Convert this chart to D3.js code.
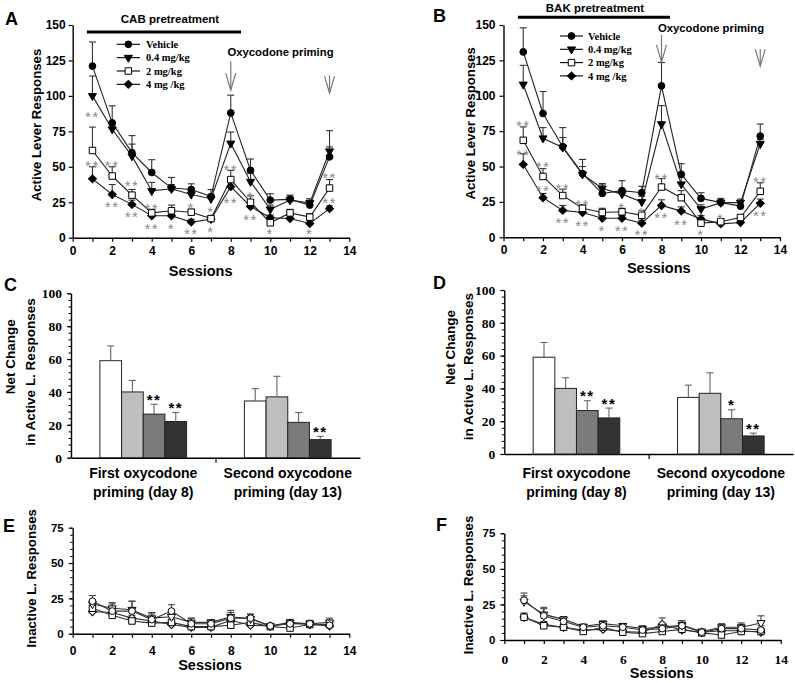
<!DOCTYPE html>
<html><head><meta charset="utf-8">
<script src="https://cdn.jsdelivr.net/npm/d3@7"></script>
<style>
body{margin:0;background:#fff}
svg{display:block}
</style></head><body>
<svg id="chart" width="795" height="683"></svg>
<script>
// ---------------- DATA ----------------
const sessions = [1,2,3,4,5,6,7,8,9,10,11,12,13];
const doseNames = ["Vehicle","0.4 mg/kg","2 mg/kg","4 mg /kg"];
const xTickValues = [0,1,2,3,4,5,6,7,8,9,10,11,12,13,14];
const activeYTicks = [0,25,50,75,100,125,150];
const inactiveYTicks = [0,25,50,75];
const netYTicks = [0,20,40,60,80,100];

// Panel A (CAB) active lever
const A_vehicle = [121, 81, 60, 46, 35, 34, 29, 88, 47.5, 26.5, 27, 23, 57];
const A_vehicleErr = [17, 12, 12, 9, 7.5, 4, 5, 12.5, 8, 4.5, 3, 4.5, 7];
const A_low = [100, 76.5, 57.5, 33, 34.5, 30.5, 27.5, 66.5, 39.5, 20, 26.5, 24.5, 61];
const A_lowErr = [14, 3, 8.5, 6, 3, 3, 3, 8, 6, 3, 3, 2, 14.5];
const A_mid = [61.5, 43.5, 30, 17.5, 19, 18, 13.5, 41, 25, 10.5, 17.5, 14.5, 35];
const A_midErr = [16.5, 6.5, 4, 2.5, 4, 2, 2, 6.5, 4.5, 2.5, 2.5, 2.5, 6];
const A_high = [41.5, 30.5, 23.5, 15.5, 15.5, 11, 13, 36, 22, 14, 13.5, 10, 20.5];
const A_highErr = [8.5, 7, 3, 2, 2, 2, 2, 4, 3, 2, 2, 2, 2];
const A_stars = [[1,88,"**"],[1,53,"**"],[2,53,"**"],[2,24,"**"],[3,39,"**"],[3,17,"**"],
  [4,22.5,"**"],[4,8.5,"**"],[5,9,"*"],[6,23.5,"*"],[6,5.5,"**"],[7,20.5,"*"],[7,6.5,"*"],
  [8,50.5,"**"],[8,27,"**"],[9,31,"*"],[9,15,"**"],[10,5,"*"],[12,5.5,"*"],[13,45,"**"],[13,27,"**"]];
const A_arrowSessions = [8, 13];
const A_arrowTop = [124.5, 114.5];
const A_arrowTip = [104, 102];
const A_pretreat = [0.72, 8.52, 145];

// Panel B (BAK) active lever
const B_vehicle = [131, 87.5, 64, 45, 31, 33, 31.5, 107, 44.5, 27.5, 24.5, 22, 71.5];
const B_vehicleErr = [17, 15.5, 13.5, 10, 6, 7, 4.5, 16.5, 7.5, 4, 3, 3, 8.5];
const B_low = [108, 70, 63.5, 44.5, 34.5, 30.5, 25, 80, 37.5, 20, 24.5, 24.5, 66];
const B_lowErr = [13.5, 7.5, 7, 5.5, 3.5, 3, 4, 13, 5, 3, 2.5, 2.5, 3];
const B_mid = [68.5, 43, 29.5, 20.5, 17.5, 18, 15.5, 35.5, 28, 10, 11, 14, 32.5];
const B_midErr = [9.5, 5.5, 4.5, 2.5, 3, 2.5, 3.5, 6, 5, 3, 2, 2, 6];
const B_high = [51.5, 28, 19, 17.5, 13.5, 13.5, 10, 22.5, 18.5, 13, 9.5, 10.5, 24];
const B_highErr = [7.5, 3, 3.5, 3, 2.5, 2, 2, 4, 3, 2.5, 1.5, 1.5, 3];
const B_stars = [[1,81,"**"],[1,61,"**"],[2,52,"**"],[2,35.5,"**"],[3,36.5,"**"],[3,13,"**"],
  [4,25.5,"**"],[4,10.5,"**"],[5,7,"*"],[6,23,"*"],[6,7,"**"],[7,19.5,"*"],[7,4.5,"**"],
  [8,43.5,"**"],[8,16.5,"**"],[9,11.5,"**"],[10,4.5,"*"],[11,15.5,"*"],[13,41.5,"**"],[13,17.5,"**"]];
const B_arrowSessions = [8, 13];
const B_arrowTop = [143, 133];
const B_arrowTip = [124, 121];
const B_pretreat = [0.73, 8.43, 155.4];

// Panels C / D net change (two priming days, four doses)
const netGroupsLine1 = ["First oxycodone", "Second oxycodone"];
const netGroupsLine2 = ["priming (day 8)", "priming (day 13)"];
const C_vehicle = [59, 34.5], C_vehicleErr = [9, 7.5];
const C_low = [40, 37], C_lowErr = [7, 12.5];
const C_mid = [26.5, 21.5], C_midErr = [6, 6];
const C_high = [22, 11], C_highErr = [5.5, 2];
const C_stars = [[0,2,"**"],[0,3,"**"],[1,3,"**"]];
const D_vehicle = [59, 34.5], D_vehicleErr = [9, 7.5];
const D_low = [40, 37], D_lowErr = [6.5, 12.5];
const D_mid = [26.5, 21.5], D_midErr = [6, 5.5];
const D_high = [22, 11], D_highErr = [6, 1.7];
const D_stars = [[0,2,"**"],[0,3,"**"],[1,2,"*"],[1,3,"**"]];

// Panel E (CAB) inactive lever
const E_vehicle = [23, 16, 16, 10, 16, 7, 7, 11, 11, 5.5, 7, 7, 6];
const E_vehicleErr = [4, 5, 7, 5, 4.5, 4, 3, 5.5, 3, 1, 2.5, 2.5, 3.5];
const E_low = [21, 18, 17, 11, 12, 8, 8, 12, 10.5, 5.5, 8, 7, 8];
const E_lowErr = [3, 4, 6, 3, 3, 3, 2, 3, 3, 1, 2, 2, 3];
const E_mid = [18, 13, 9, 7.5, 8, 5, 5, 6, 8, 5, 4, 6.5, 6.5];
const E_midErr = [3, 2, 2, 2, 2, 2, 2, 2, 2, 1, 2, 2, 2];
const E_high = [15.5, 15, 11, 9, 6.5, 4.5, 4.5, 9.5, 6, 5.5, 7.5, 6.5, 5.5];
const E_highErr = [2, 2, 2, 2, 2, 1.5, 1.5, 2, 2, 1, 1.5, 1.5, 1.5];

// Panel F (BAK) inactive lever
const F_vehicle = [28, 17, 13, 9, 10, 9, 7, 8, 10, 5.5, 8, 8, 7];
const F_vehicleErr = [5, 5, 2, 1.5, 2, 2, 2, 2, 3.5, 1.5, 2.5, 3, 3];
const F_low = [27, 18, 14.5, 9.5, 11.5, 10, 8, 9, 10.5, 6, 9, 9, 12];
const F_lowErr = [4, 5, 2, 1.5, 2, 1.5, 2, 2, 3, 1.5, 2.5, 3, 5];
const F_mid = [16, 10, 9, 6, 9, 5.5, 4.5, 6, 7.5, 5, 3.5, 6, 6];
const F_midErr = [2, 2, 1.5, 1.5, 1.5, 1.5, 1, 1.5, 1.5, 1, 1.5, 1.5, 1.5];
const F_high = [16, 11, 9, 7, 7.5, 6, 5.5, 11, 7, 5.5, 6.5, 6.5, 5.5];
const F_highErr = [3, 2, 1.5, 1.5, 1.5, 1.5, 1, 4.5, 1.5, 1, 1, 1, 1];

// ---------------- DRAWING ----------------
const SANS = '"Liberation Sans", Arial, sans-serif';
const SERIF = '"Liberation Serif", "Times New Roman", serif';
const svg = d3.select("#chart");

const symDefs = [
  {type: d3.symbolCircle, size: 36, rot: 0},
  {type: d3.symbolTriangle, size: 28, rot: 180},
  {type: d3.symbolSquare, size: 42, rot: 0},
  {type: d3.symbolSquare, size: 32, rot: 45}
];

function styleAxis(sel, font, size) {
  sel.select(".domain").attr("stroke", "#000").attr("stroke-width", 1.4);
  sel.selectAll(".tick line").attr("stroke", "#000").attr("stroke-width", 1.2);
  sel.selectAll(".tick text").attr("fill", "#000")
    .style("font-family", font).style("font-size", size + "px").style("font-weight", "bold");
}

function txt(g, x, y, s, size, opts = {}) {
  return g.append("text").attr("x", x).attr("y", y).attr("dy", "0.35em")
    .attr("text-anchor", opts.anchor || "middle")
    .style("font-family", opts.font || SANS).style("font-size", size + "px")
    .style("font-weight", opts.weight || "bold").attr("fill", opts.fill || "#000")
    .text(s);
}
function vtxt(g, x, y, s, size) {
  return g.append("text").attr("transform", `translate(${x},${y}) rotate(-90)`).attr("dy", "0.35em")
    .attr("text-anchor", "middle").style("font-family", SANS).style("font-size", size + "px")
    .style("font-weight", "bold").attr("fill", "#000").text(s);
}
function marker(g, k, cx, cy, fill) {
  const d = symDefs[k];
  g.append("path").attr("d", d3.symbol().type(d.type).size(d.size)())
    .attr("transform", `translate(${cx},${cy}) rotate(${d.rot})`)
    .attr("fill", fill).attr("stroke", "#000").attr("stroke-width", 1);
}
function starText(g, x, yc, s, size, fill, weight) {
  g.append("text").attr("x", x).attr("y", yc + 0.58 * size)
    .attr("text-anchor", "middle").style("font-family", SANS).style("font-size", size + "px")
    .style("font-weight", weight).style("letter-spacing", "1.5px").attr("fill", fill).text(s);
}

function linePanel(o) {
  const g = svg.append("g");
  const x = d3.scaleLinear().domain([0, 14]).range(o.xr);
  const y = d3.scaleLinear().domain([0, o.ymax]).range(o.yr);
  if (o.minor) {
    g.append("g").attr("transform", `translate(${o.xr[0]},0)`)
      .call(d3.axisLeft(y).tickValues(d3.range(0, o.ymax + 0.001, o.minor)).tickSize(2.5).tickFormat(""))
      .call(s => { s.select(".domain").remove(); s.selectAll("line").attr("stroke", "#000"); });
  }
  const ya = g.append("g").attr("transform", `translate(${o.xr[0]},0)`)
    .call(d3.axisLeft(y).tickValues(o.yTicks).tickSize(4).tickPadding(o.yPad).tickSizeOuter(0));
  styleAxis(ya, SANS, o.yFont);
  const xa = g.append("g").attr("transform", `translate(0,${o.yr[0]})`)
    .call(d3.axisBottom(x).tickValues(xTickValues).tickFormat(d => d % 2 ? "" : d)
      .tickSize(4).tickPadding(o.xPad).tickSizeOuter(0));
  styleAxis(xa, o.xFontFamily, o.xFont);

  const line = d3.line().x((d, i) => x(sessions[i])).y(d => y(d));
  const order = [3, 2, 1, 0];
  order.forEach(k => {
    const s = o.series[k];
    g.append("path").datum(s.v).attr("d", line).attr("fill", "none")
      .attr("stroke", o.lineColor).attr("stroke-width", 1.1);
  });
  order.forEach(k => {
    const s = o.series[k];
    const eg = g.append("g").attr("stroke", o.errColor).attr("stroke-width", 1.1);
    s.v.forEach((v, i) => {
      const cx = x(sessions[i]), y0 = y(v), y1 = y(v + s.e[i]);
      eg.append("line").attr("x1", cx).attr("x2", cx).attr("y1", y0).attr("y2", y1);
      eg.append("line").attr("x1", cx - 3.5).attr("x2", cx + 3.5).attr("y1", y1).attr("y2", y1);
    });
  });
  order.forEach(k => {
    const s = o.series[k];
    s.v.forEach((v, i) => marker(g, k, x(sessions[i]), y(v), o.fills[k]));
  });
  if (o.stars) o.stars.forEach(st => starText(g, x(st[0]), y(st[1]), st[2], 15, "#8a8a8a", "normal"));
  if (o.arrows) {
    o.arrows.sessions.forEach((s, i) => {
      const ax = x(s), yt = y(o.arrows.top[i]), yb = y(o.arrows.tip[i]);
      g.append("line").attr("x1", ax).attr("x2", ax).attr("y1", yt).attr("y2", yb)
        .attr("stroke", "#777").attr("stroke-width", 1.2);
      g.append("polyline").attr("points", `${ax - 5},${yb - 17} ${ax},${yb} ${ax + 5},${yb - 17}`)
        .attr("fill", "none").attr("stroke", "#777").attr("stroke-width", 1.2);
    });
  }
  if (o.pretreat) {
    g.append("line").attr("x1", x(o.pretreat[0])).attr("x2", x(o.pretreat[1]))
      .attr("y1", y(o.pretreat[2])).attr("y2", y(o.pretreat[2]))
      .attr("stroke", "#000").attr("stroke-width", 3);
  }
  if (o.legend) {
    const L = o.legend;
    doseNames.forEach((n, k) => {
      const yy = L.y0 + k * L.dy;
      g.append("line").attr("x1", L.x0).attr("x2", L.x1).attr("y1", yy).attr("y2", yy)
        .attr("stroke", "#000").attr("stroke-width", 1.1);
      marker(g, k, (L.x0 + L.x1) / 2, yy, o.fills[k]);
      txt(g, L.tx, yy, n, 10.5, {anchor: "start", font: SERIF});
    });
  }
  return g;
}

function barPanel(o) {
  const g = svg.append("g");
  const x0 = d3.scaleBand().domain([0, 1]).range(o.xr);
  const bw = x0.bandwidth();
  const x1 = d3.scaleBand().domain([0, 1, 2, 3]).range([bw * 0.2, bw * 0.8]);
  const y = d3.scaleLinear().domain([0, 100]).range(o.yr);
  g.append("g").attr("transform", `translate(${o.xr[0]},0)`)
    .call(d3.axisLeft(y).tickValues(d3.range(0, 100.1, 4)).tickSize(2.5).tickFormat(""))
    .call(s => { s.select(".domain").remove(); s.selectAll("line").attr("stroke", "#000"); });
  const ya = g.append("g").attr("transform", `translate(${o.xr[0]},0)`)
    .call(d3.axisLeft(y).tickValues(netYTicks).tickSize(4).tickPadding(5).tickSizeOuter(0));
  styleAxis(ya, SERIF, 13.5);
  const xl = d3.scaleLinear().domain([0, 2]).range(o.xr);
  const xa = g.append("g").attr("transform", `translate(0,${o.yr[0]})`)
    .call(d3.axisBottom(xl).tickValues([1]).tickFormat("").tickSize(5).tickSizeOuter(0));
  styleAxis(xa, SANS, 12);
  const colors = ["#ffffff", "#bebebe", "#7b7b7b", "#333333"];
  o.series.forEach((s, k) => {
    s.v.forEach((v, i) => {
      const bx = x0(i) + x1(k), w = x1.bandwidth();
      g.append("rect").attr("x", bx).attr("y", y(v)).attr("width", w).attr("height", y(0) - y(v))
        .attr("fill", colors[k]).attr("stroke", "#222").attr("stroke-width", 1);
      const cx = bx + w / 2, ye = y(v + s.e[i]);
      g.append("line").attr("x1", cx).attr("x2", cx).attr("y1", y(v)).attr("y2", ye)
        .attr("stroke", "#666").attr("stroke-width", 1.1);
      g.append("line").attr("x1", cx - 3.5).attr("x2", cx + 3.5).attr("y1", ye).attr("y2", ye)
        .attr("stroke", "#666").attr("stroke-width", 1.1);
    });
  });
  o.stars.forEach(st => {
    const [i, k, t] = st;
    const s = o.series[k];
    starText(g, x0(i) + x1(k) + x1.bandwidth() / 2, y(s.v[i] + s.e[i] + 5), t, 15, "#000", "bold");
  });
  [0, 1].forEach(i => {
    const cx = x0(i) + bw / 2;
    txt(g, cx, o.lab1y, netGroupsLine1[i], 14);
    txt(g, cx, o.lab2y, netGroupsLine2[i], 14);
  });
  return g;
}

// Panel A
linePanel({
  xr: [72.7, 349.3], yr: [237.7, 25], ymax: 150, yTicks: activeYTicks, yPad: 3, yFont: 12,
  xPad: 4.5, xFont: 12, xFontFamily: SANS, lineColor: "#222", errColor: "#333",
  fills: ["#000", "#000", "#fff", "#000"],
  series: [{v: A_vehicle, e: A_vehicleErr}, {v: A_low, e: A_lowErr}, {v: A_mid, e: A_midErr}, {v: A_high, e: A_highErr}],
  stars: A_stars, arrows: {sessions: A_arrowSessions, top: A_arrowTop, tip: A_arrowTip},
  pretreat: A_pretreat, legend: {x0: 116.7, x1: 140, tx: 146, y0: 44.3, dy: 13.35}
});
// Panel B
linePanel({
  xr: [503.5, 780], yr: [237.3, 25], ymax: 150, yTicks: activeYTicks, yPad: 4, yFont: 12,
  xPad: 4.5, xFont: 12, xFontFamily: SANS, lineColor: "#222", errColor: "#333",
  fills: ["#000", "#000", "#fff", "#000"],
  series: [{v: B_vehicle, e: B_vehicleErr}, {v: B_low, e: B_lowErr}, {v: B_mid, e: B_midErr}, {v: B_high, e: B_highErr}],
  stars: B_stars, arrows: {sessions: B_arrowSessions, top: B_arrowTop, tip: B_arrowTip},
  pretreat: B_pretreat, legend: {x0: 560, x1: 583, tx: 588, y0: 36, dy: 13.3}
});
// Panel C
barPanel({
  xr: [71, 360], yr: [457.7, 293.3], lab1y: 472.7, lab2y: 491.7,
  series: [{v: C_vehicle, e: C_vehicleErr}, {v: C_low, e: C_lowErr}, {v: C_mid, e: C_midErr}, {v: C_high, e: C_highErr}],
  stars: C_stars
});
// Panel D
barPanel({
  xr: [504.3, 793], yr: [454, 290], lab1y: 472.7, lab2y: 491.7,
  series: [{v: D_vehicle, e: D_vehicleErr}, {v: D_low, e: D_lowErr}, {v: D_mid, e: D_midErr}, {v: D_high, e: D_highErr}],
  stars: D_stars
});
// Panel E
linePanel({
  xr: [72.7, 349.3], yr: [633.7, 527.7], ymax: 75, yTicks: inactiveYTicks, yPad: 5, yFont: 11.5, minor: 5,
  xPad: 9, xFont: 12, xFontFamily: SANS, lineColor: "#333", errColor: "#444",
  fills: ["#fff", "#fff", "#fff", "#fff"],
  series: [{v: E_vehicle, e: E_vehicleErr}, {v: E_low, e: E_lowErr}, {v: E_mid, e: E_midErr}, {v: E_high, e: E_highErr}]
});
// Panel F
linePanel({
  xr: [504.3, 780.7], yr: [640, 533.3], ymax: 75, yTicks: inactiveYTicks, yPad: 5, yFont: 11.5, minor: 5,
  xPad: 10, xFont: 13.5, xFontFamily: SERIF, lineColor: "#333", errColor: "#444",
  fills: ["#fff", "#fff", "#fff", "#fff"],
  series: [{v: F_vehicle, e: F_vehicleErr}, {v: F_low, e: F_lowErr}, {v: F_mid, e: F_midErr}, {v: F_high, e: F_highErr}]
});

// Text annotations
const T = svg.append("g");
txt(T, 5, 19, "A", 18, {anchor: "start"});
txt(T, 433, 16, "B", 18, {anchor: "start"});
txt(T, 4, 285, "C", 18, {anchor: "start"});
txt(T, 433, 283, "D", 18, {anchor: "start"});
txt(T, 3, 526, "E", 18, {anchor: "start"});
txt(T, 436, 525, "F", 18, {anchor: "start"});
txt(T, 170, 19, "CAB pretreatment", 11.5);
txt(T, 595, 8, "BAK pretreatment", 11.5);
txt(T, 280.5, 52, "Oxycodone priming", 11.3);
txt(T, 711, 28, "Oxycodone priming", 11.3);
txt(T, 200.7, 270.7, "Sessions", 14.5);
txt(T, 658.8, 268.3, "Sessions", 14.5);
txt(T, 210, 665, "Sessions", 14.5);
txt(T, 661.7, 673, "Sessions", 14.5);
vtxt(T, 36.7, 125, "Active Lever Responses", 13.2);
vtxt(T, 470, 123.3, "Active Lever Responses", 13.2);
vtxt(T, 10, 356.7, "Net Change", 13.5);
vtxt(T, 30, 372, "in Active L. Responses", 13.5);
vtxt(T, 450, 347.5, "Net Change", 13.5);
vtxt(T, 468, 366.7, "in Active L. Responses", 13.5);
vtxt(T, 31.7, 578.3, "Inactive L. Responses", 13.2);
vtxt(T, 468.3, 585, "Inactive L. Responses", 13.2);
</script>
</body></html>
